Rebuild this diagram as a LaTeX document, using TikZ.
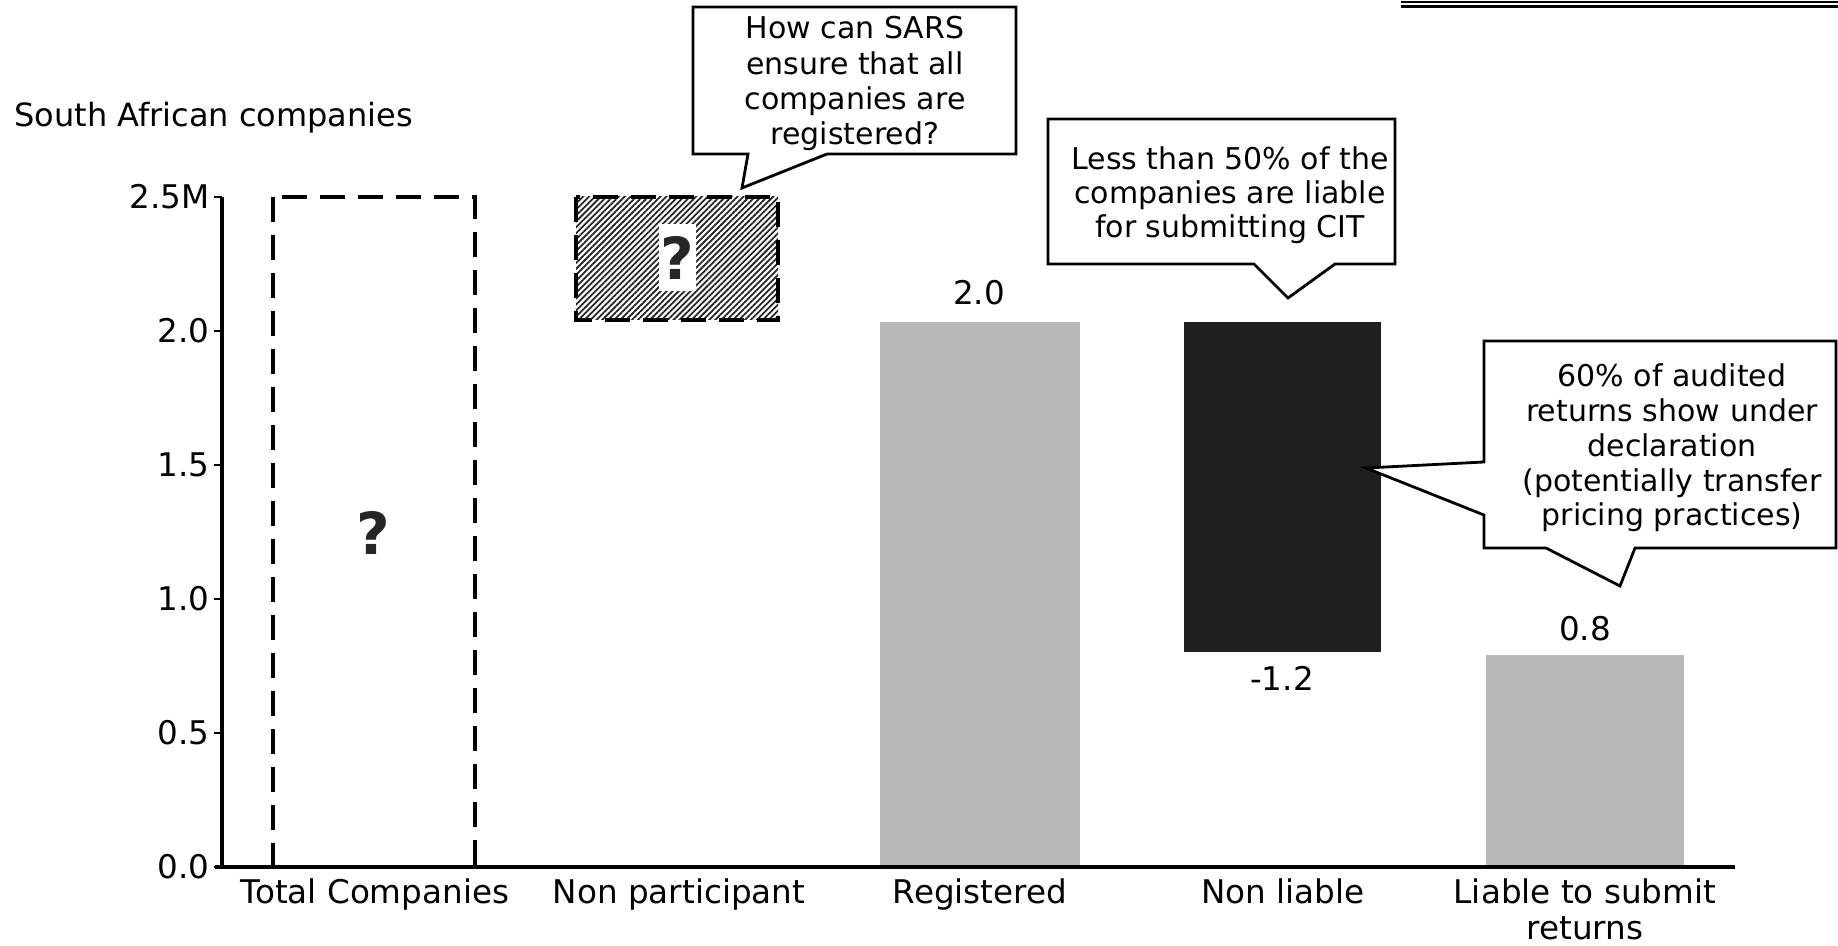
\documentclass[tikz,border=0pt]{standalone}
\usepackage{fontspec}
\setmainfont{DejaVu Sans}
\usetikzlibrary{patterns.meta}
\begin{document}
\begin{tikzpicture}[x=0.5pt,y=-0.5pt,
  txt/.style={font=\fontsize{15}{17.5}\selectfont, inner sep=0pt},
  bigtxt/.style={font=\fontsize{16.3}{19}\selectfont, inner sep=0pt},
  callouttext/.style={txt, align=center, anchor=base},
  calloutbox/.style={draw=black, fill=white, line width=1.4pt, line join=miter},
  axisline/.style={line width=1.9pt},
  tickmark/.style={line width=1.1pt},
  ticklabel/.style={bigtxt, anchor=east},
  catlabel/.style={bigtxt, align=center, anchor=base},
  vallabel/.style={bigtxt, anchor=base},
  dashbox/.style={draw=black, line width=1.6pt, dash pattern=on 12.5pt off 6.5pt},
  lightbar/.style={fill=black!28},
  darkbar/.style={fill=black!88},
  hatchfill/.style={pattern={Lines[angle=45,distance=2.1pt,line width=0.9pt]}, pattern color=black!85},
  qmark/.style={font=\bfseries\fontsize{29}{29}\selectfont, text=black!85, inner sep=0pt},
]
\useasboundingbox (0,0) rectangle (1838,946);

% header rule, top right
\draw[line width=1.1pt] (1401,2) -- (1838,2);
\draw[line width=1.1pt] (1401,6.5) -- (1838,6.5);

% chart title
\node[bigtxt, anchor=base west, font=\fontsize{16}{19}\selectfont] (title) at (14,127) {South African companies};

% bars
\path[lightbar] (880,322) rectangle (1080,867);
\path[darkbar]  (1184,322) rectangle (1381,652);
\path[lightbar] (1486,655) rectangle (1684,867);

% total companies: unknown, dashed outline
\draw[dashbox] (273,197) rectangle (475,867);
\node[qmark] (qtotal) at (373,533) {?};

% non participants: unknown, hatched
\path[hatchfill] (576,197) rectangle (778,320);
\draw[dashbox] (576,197) rectangle (778,320);
\node[qmark, fill=white, minimum width=18.5pt, minimum height=33.5pt] (qnonpart) at (677,258) {?};

% value labels
\node[vallabel] (vreg) at (979,305) {2.0};
\node[vallabel] (vnonl) at (1282,690) {-1.2};
\node[vallabel] (vliab) at (1585,640) {0.8};

% axes
\draw[axisline] (222,197) -- (222,867);
\foreach \v [count=\i from 0] in {0.0,0.5,1.0,1.5,2.0,2.5M} {
  \draw[tickmark] (214,867-134*\i) -- (222,867-134*\i);
  \node[ticklabel] (tick\i) at (210,867-134*\i) {\v};
}
\draw[axisline] (215,867) -- (1735,867);

% category labels (base anchor = last line)
\node[catlabel] (cat1) at (375,903) {Total Companies};
\node[catlabel] (cat2) at (679,903) {Non participant};
\node[catlabel] (cat3) at (980,903) {Registered};
\node[catlabel] (cat4) at (1283,903) {Non liable};
\node[catlabel, font=\fontsize{16.3}{18}\selectfont] (cat5) at (1585,939) {Liable to submit\\returns};

% callouts (text anchored on the baseline of its last line)
\draw[calloutbox] (693,7) -- (1016,7) -- (1016,154) -- (827,154) -- (742,188)
  -- (748,154) -- (693,154) -- cycle;
\node[callouttext, font=\fontsize{15}{17.67}\selectfont] (c1) at (855,145)
  {How can SARS\\ensure that all\\companies are\\registered?};

\draw[calloutbox] (1048,119) -- (1395,119) -- (1395,264) -- (1335,264) -- (1288,298)
  -- (1254,264) -- (1048,264) -- cycle;
\node[callouttext, font=\fontsize{15}{17}\selectfont] (c2) at (1230,238)
  {Less than 50\% of the\\companies are liable\\for submitting CIT};

\draw[calloutbox] (1484,341) -- (1836,341) -- (1836,548) -- (1635,548) -- (1620,586)
  -- (1546,548) -- (1484,548) -- (1484,515) -- (1366,468) -- (1484,462) -- cycle;
\node[callouttext, font=\fontsize{15}{17.4}\selectfont] (c3) at (1672,526)
  {60\% of audited\\returns show under\\declaration\\(potentially transfer\\pricing practices)};
\end{tikzpicture}
\end{document}
